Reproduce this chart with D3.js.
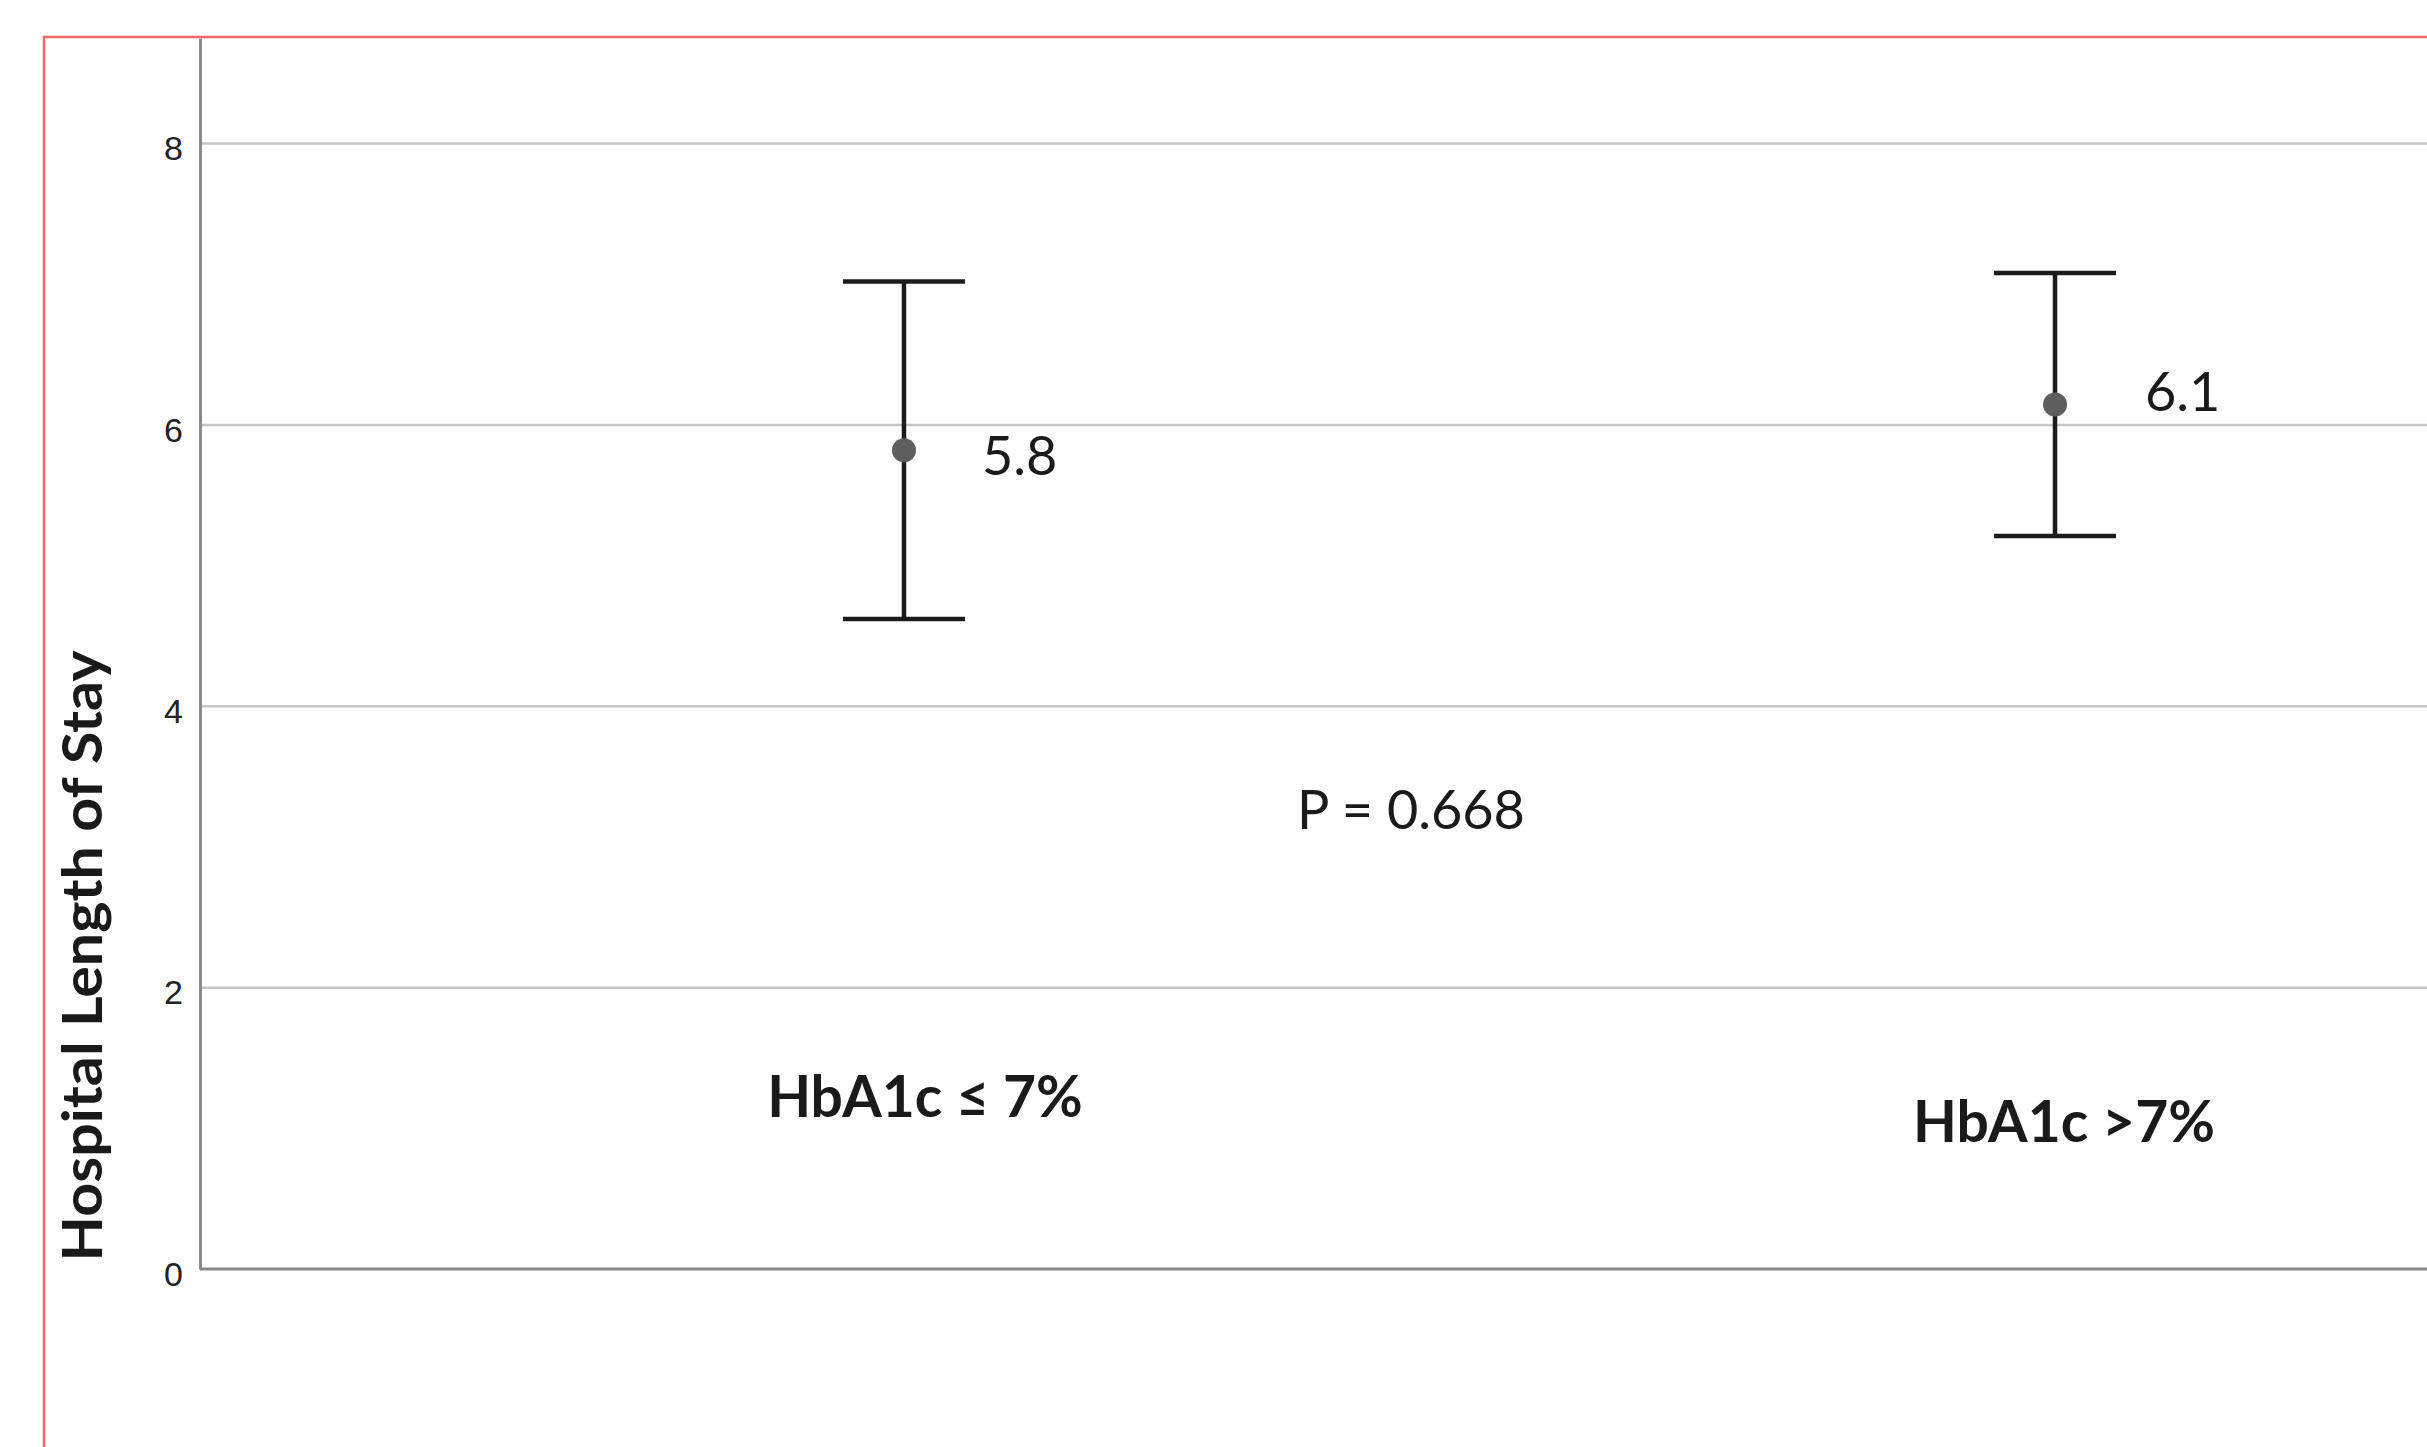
<!DOCTYPE html>
<html>
<head>
<meta charset="utf-8">
<title>Hospital Length of Stay</title>
<script src="https://cdn.jsdelivr.net/npm/d3@7"></script>
<style>
  body { margin: 0; background: #fff; }
  svg { display: block; }
  .tick text { font-family: "Liberation Sans", Arial, sans-serif; font-size: 34px; fill: #222; }
  .note { font-family: Lato, "Open Sans", sans-serif; fill: #1a1a1a; }
</style>
</head>
<body>
<svg width="2427" height="1447"></svg>
<script>
// groups and their mean / 95% CI
var groups = ["HbA1c \u2264 7%", "HbA1c >7%"];
var means = [5.82, 6.145];
var lower = [4.62, 5.21];
var upper = [7.02, 7.08];
var meanLabels = ["5.8", "6.1"];
var yTicks = [0, 2, 4, 6, 8];
var pLabel = "P = 0.668";

var svg = d3.select("svg");

// frame (only top and left edge are inside the picture)
svg.append("rect")
  .attr("x", 44).attr("y", 37)
  .attr("width", 3000).attr("height", 3000)
  .attr("fill", "none")
  .attr("stroke", "#f06868")
  .attr("stroke-width", 2.5);

var y = d3.scaleLinear().domain([0, 8.75]).range([1269, 38]);
var x = d3.scalePoint().domain(groups).range([200, 2759]).padding(0.6116);

// grid
svg.append("g").selectAll("line")
  .data(yTicks.filter(function(d) { return d > 0; }))
  .enter().append("line")
  .attr("x1", 200).attr("x2", 2427)
  .attr("y1", function(d) { return y(d); })
  .attr("y2", function(d) { return y(d); })
  .attr("stroke", "#c6c6c6")
  .attr("stroke-width", 2.5);

// y axis
var yAxis = svg.append("g")
  .attr("transform", "translate(200,0)")
  .call(d3.axisLeft(y).tickValues(yTicks).tickSize(0).tickPadding(17).tickFormat(d3.format("d")));
yAxis.select(".domain").attr("stroke", "#8a8a8a").attr("stroke-width", 3);
yAxis.selectAll(".tick text").attr("dy", "0.48em");

// baseline
svg.append("line")
  .attr("x1", 200).attr("x2", 2427)
  .attr("y1", y(0)).attr("y2", y(0))
  .attr("stroke", "#8a8a8a")
  .attr("stroke-width", 3);

// error bars
var capHalf = 61;
var bars = svg.append("g").selectAll("g")
  .data(groups)
  .enter().append("g");

bars.append("line")
  .attr("x1", function(d) { return x(d); })
  .attr("x2", function(d) { return x(d); })
  .attr("y1", function(d, i) { return y(upper[i]); })
  .attr("y2", function(d, i) { return y(lower[i]); })
  .attr("stroke", "#1c1c1c").attr("stroke-width", 4.5);

bars.append("line")
  .attr("x1", function(d) { return x(d) - capHalf; })
  .attr("x2", function(d) { return x(d) + capHalf; })
  .attr("y1", function(d, i) { return y(upper[i]); })
  .attr("y2", function(d, i) { return y(upper[i]); })
  .attr("stroke", "#1c1c1c").attr("stroke-width", 4.5);

bars.append("line")
  .attr("x1", function(d) { return x(d) - capHalf; })
  .attr("x2", function(d) { return x(d) + capHalf; })
  .attr("y1", function(d, i) { return y(lower[i]); })
  .attr("y2", function(d, i) { return y(lower[i]); })
  .attr("stroke", "#1c1c1c").attr("stroke-width", 4.5);

bars.append("circle")
  .attr("cx", function(d) { return x(d); })
  .attr("cy", function(d, i) { return y(means[i]); })
  .attr("r", 12)
  .attr("fill", "#5e5e5e");

// mean labels, offsets
var meanDx = [78, 90], meanDy = [25, 7];
bars.append("text")
  .attr("class", "note")
  .attr("x", function(d, i) { return x(d) + meanDx[i]; })
  .attr("y", function(d, i) { return y(means[i]) + meanDy[i]; })
  .attr("font-size", 54)
  .text(function(d, i) { return meanLabels[i]; });

// group labels
var labelDx = [21, 9], labelY = [1117, 1142];
bars.append("text")
  .attr("class", "note")
  .attr("x", function(d, i) { return x(d) + labelDx[i]; })
  .attr("y", function(d, i) { return labelY[i]; })
  .attr("text-anchor", "middle")
  .attr("font-size", 57)
  .attr("font-weight", "bold")
  .text(function(d) { return d; });

// p value
svg.append("text")
  .attr("class", "note")
  .attr("x", 1297).attr("y", 829)
  .attr("font-size", 54)
  .text(pLabel);

// y title
svg.append("text")
  .attr("class", "note")
  .attr("transform", "translate(102,956) rotate(-90)")
  .attr("text-anchor", "middle")
  .attr("font-size", 56)
  .attr("font-weight", "bold")
  .attr("textLength", 611)
  .attr("lengthAdjust", "spacingAndGlyphs")
  .text("Hospital Length of Stay");
</script>
</body>
</html>
